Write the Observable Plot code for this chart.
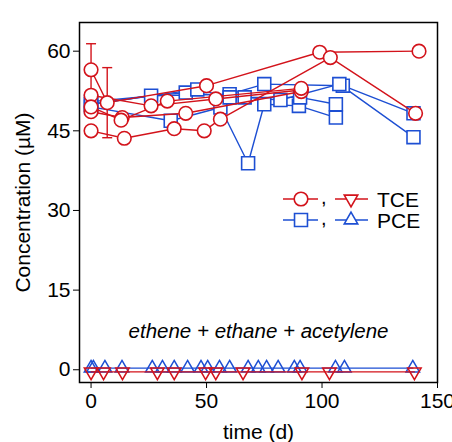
<!DOCTYPE html>
<html><head><meta charset="utf-8">
<script src="https://cdn.jsdelivr.net/npm/d3@7"></script>
<script src="https://cdn.jsdelivr.net/npm/@observablehq/plot@0.6"></script>
<style>
body{margin:0;background:#fff}
#wrap{position:relative;width:452px;height:442px;overflow:hidden;font-family:"Liberation Sans",Arial,sans-serif}
#legend{position:absolute;left:0;top:0}
</style>
</head><body><div id="wrap"></div>
<script>
// TCE (red circles), one row per replicate
const tceDays = [
  [0, 7, 50, 99, 142],
  [0, 26, 54, 91],
  [0, 13.5, 41, 91],
  [0, 14.4, 36, 49, 56, 103.6, 140.5],
  [0, 13, 33, 91]
];
const tceConc = [
  [56.5, 50.3, 53.5, 59.8, 60],
  [51.7, 49.7, 51, 52.7],
  [48.6, 47.5, 48.3, 52.4],
  [45, 43.6, 45.4, 45, 47.2, 58.8, 48.3],
  [49.5, 47, 50.6, 53]
];
const tceErrDays = [0, 7];
const tceErrMean = [56.5, 50.3];
const tceErrSD = [4.9, 6.6];
// PCE (blue squares)
const pceDays = [
  [0, 26, 60, 75, 109, 139.6],
  [0, 34.5, 56, 68, 75, 90, 106],
  [0, 41, 66.5, 82, 107.5, 139.6],
  [0, 46, 60, 90.5, 106]
];
const pceConc = [
  [50, 51.6, 51.9, 53.8, 53.5, 48.3],
  [49.5, 46.9, 49.4, 38.9, 50, 49.7, 47.5],
  [50.5, 52.2, 51.3, 50.8, 53.8, 43.8],
  [50, 52.8, 51.3, 51.3, 50]
];
// ethene + ethane + acetylene
const tceProdDays = [0, 5.4, 13.6, 28.7, 36, 49.6, 54, 65.8, 91.3, 103.2, 140];
const tceProdConc = [-0.4, -0.4, -0.4, -0.4, -0.4, -0.4, -0.4, -0.4, -0.4, -0.4, -0.4];
const pceProdDays = [0, 1, 6, 13.4, 26.5, 30.9, 36, 41.8, 47.6, 50.5, 55.6, 60, 68, 72.4, 76, 81, 88, 90.5, 105.8, 109.7, 139.3];
const pceProdConc = [0.3, 0.3, 0.3, 0.3, 0.3, 0.3, 0.3, 0.3, 0.3, 0.3, 0.3, 0.3, 0.3, 0.3, 0.3, 0.3, 0.3, 0.3, 0.3, 0.3, 0.3];
const xTicks = [0, 50, 100, 150];
const yTicks = [0, 15, 30, 45, 60];
const annotation = "ethene + ethane + acetylene";

const RED = "#d3131b", BLUE = "#1d4fd3";
const FONT = "'Liberation Sans', Arial, sans-serif";

const toRows = (days, conc) => days.flatMap((ds, k) => ds.map((t, i) => ({rep: k, t, c: conc[k][i]})));
const tce = toRows(tceDays, tceConc);
const pce = toRows(pceDays, pceConc);
const tceErr = tceErrDays.map((t, i) => ({t, lo: tceErrMean[i] - tceErrSD[i], hi: tceErrMean[i] + tceErrSD[i]}));
const tceProd = tceProdDays.map((t, i) => ({t, c: tceProdConc[i]}));
const pceProd = pceProdDays.map((t, i) => ({t, c: pceProdConc[i]}));

const capSymbol = {draw(ctx, size) { const w = 5; ctx.moveTo(-w, 0); ctx.lineTo(w, 0); }};

const chart = Plot.plot({
  width: 452, height: 442,
  marginLeft: 79, marginRight: 15, marginTop: 22, marginBottom: 60,
  style: {fontFamily: FONT, fontSize: "21px", color: "#000", background: "#fff"},
  x: {domain: [-5, 150], ticks: xTicks, label: "time (d)", labelAnchor: "center", labelArrow: "none"},
  y: {domain: [-2.4, 65.4], ticks: yTicks, label: "Concentration (µM)", labelAnchor: "center", labelArrow: "none"},
  marks: [
    Plot.axisX({ticks: xTicks, tickSize: 6, tickPadding: 5, label: "time (d)", labelAnchor: "center", labelArrow: "none", labelOffset: 56, fontSize: 21}),
    Plot.axisY({ticks: yTicks, tickSize: 6, tickPadding: 3, label: "Concentration (µM)", labelAnchor: "center", labelArrow: "none", labelOffset: 64, fontSize: 21}),
    // PCE products
    Plot.line(pceProd, {x: "t", y: "c", stroke: BLUE, strokeWidth: 1.4}),
    Plot.dot(pceProd, {x: "t", y: "c", symbol: "triangle", r: 5, stroke: BLUE, strokeWidth: 1.5, fill: "none"}),
    // TCE products
    Plot.line(tceProd, {x: "t", y: "c", stroke: RED, strokeWidth: 1.4}),
    Plot.dot(tceProd, {x: "t", y: "c", symbol: "triangle", rotate: 180, r: 5, stroke: RED, strokeWidth: 1.5, fill: "none"}),
    // PCE
    Plot.line(pce, {x: "t", y: "c", z: "rep", stroke: BLUE, strokeWidth: 1.4}),
    Plot.dot(pce, {x: "t", y: "c", symbol: "square", r: 7.3, stroke: BLUE, strokeWidth: 1.6, fill: "white"}),
    // TCE error bars
    Plot.ruleX(tceErr, {x: "t", y1: "lo", y2: "hi", stroke: RED, strokeWidth: 1.4}),
    Plot.dot(tceErr, {x: "t", y: "hi", symbol: capSymbol, stroke: RED, strokeWidth: 1.4}),
    Plot.dot(tceErr, {x: "t", y: "lo", symbol: capSymbol, stroke: RED, strokeWidth: 1.4}),
    // TCE
    Plot.line(tce, {x: "t", y: "c", z: "rep", stroke: RED, strokeWidth: 1.4}),
    Plot.dot(tce, {x: "t", y: "c", r: 6.8, stroke: RED, strokeWidth: 1.6, fill: "white"}),
    Plot.text([annotation], {frameAnchor: "bottom", dy: -51, fontStyle: "italic", fontSize: 20.5, fill: "#000", lineAnchor: "middle"}),
    Plot.frame({stroke: "#000", strokeWidth: 1.5})
  ]
});
const wrap = document.getElementById("wrap");
wrap.appendChild(chart);

// legend overlay
const lg = d3.select(wrap).append("svg").attr("id", "legend").attr("width", 452).attr("height", 442);
const rows = [
  {y: 199, color: RED, sym1: d3.symbolCircle, r1: 6.8, sym2: d3.symbolTriangle, r2: 5, rot2: 180, label: "TCE"},
  {y: 220, color: BLUE, sym1: d3.symbolSquare, r1: 7.3, sym2: d3.symbolTriangle, r2: 5, rot2: 0, label: "PCE"}
];
for (const row of rows) {
  const g = lg.append("g").attr("transform", `translate(0,${row.y})`);
  g.append("line").attr("x1", 283).attr("x2", 318).attr("stroke", row.color).attr("stroke-width", 1.4);
  g.append("path").attr("d", d3.symbol(row.sym1, Math.PI * row.r1 * row.r1)()).attr("transform", "translate(301,0)")
    .attr("fill", "white").attr("stroke", row.color).attr("stroke-width", 1.6);
  g.append("text").attr("x", 321).attr("y", 5).text(",").attr("font-size", 20).attr("font-family", FONT);
  g.append("line").attr("x1", 335).attr("x2", 368).attr("stroke", row.color).attr("stroke-width", 1.4);
  g.append("path").attr("d", d3.symbol(row.sym2, Math.PI * row.r2 * row.r2)()).attr("transform", `translate(351,0) rotate(${row.rot2})`)
    .attr("fill", "white").attr("stroke", row.color).attr("stroke-width", 1.6);
  g.append("text").attr("x", 377).attr("y", 0).attr("dy", "0.36em").text(row.label).attr("font-size", 21).attr("font-family", FONT);
}
</script>
</body></html>
